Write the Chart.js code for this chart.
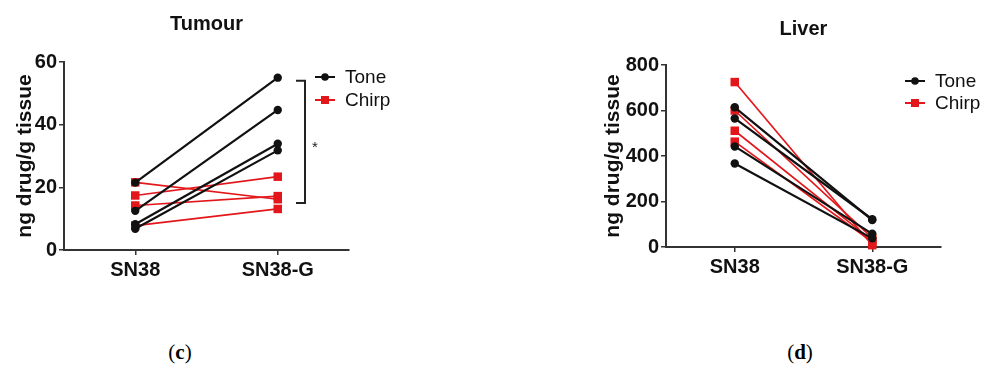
<!DOCTYPE html>
<html>
<head>
<meta charset="utf-8">
<script src="https://cdn.jsdelivr.net/npm/chart.js@4.4.1/dist/chart.umd.min.js"></script>
<style>
    body { margin: 0; background: #fff; }
    #wrap { position: relative; width: 983px; height: 365px; overflow: hidden; background: #fff; }
    .panel { position: absolute; top: 0; }
    .caption { position: absolute; top: 340px; width: 60px; text-align: center;
        font-family: "Liberation Serif", serif; font-size: 21px; color: #000; }
</style>
</head>
<body>
<div id="wrap">
    <canvas id="tumourChart" class="panel" style="left:0px" width="440" height="300"></canvas>
    <canvas id="liverChart" class="panel" style="left:590px" width="393" height="300"></canvas>
    <div class="caption" style="left:150px">(<b>c</b>)</div>
    <div class="caption" style="left:770px">(<b>d</b>)</div>
</div>
<script>
print = console.log;

// DATA
const categories = ['SN38', 'SN38-G'];

// Tumour, each index is one animal (SN38 -> SN38-G)
const tumourToneSN38 = [21.5, 12.5, 8.2, 6.8];
const tumourToneSN38G = [55, 44.7, 33.9, 31.8];
const tumourChirpSN38 = [21.6, 17.4, 14.2, 7.8];
const tumourChirpSN38G = [16.2, 23.4, 17.2, 13.1];
const tumourTicks = [0, 20, 40, 60];

// Liver
const liverToneSN38 = [614, 565, 442, 367];
const liverToneSN38G = [118, 122, 58, 38];
const liverChirpSN38 = [725, 600, 511, 463];
const liverChirpSN38G = [8, 40, 28, 22];
const liverTicks = [0, 200, 400, 600, 800];

const BLACK = '#111111';
const RED = '#e3171b';
const FONT = '"Liberation Sans", Arial, sans-serif';

window.addEventListener('load', function () {
    Chart.defaults.font.family = FONT;
    Chart.defaults.color = '#111';
    makePanel('tumourChart', {
        title: 'Tumour', titleY: 24,
        tone: [tumourToneSN38, tumourToneSN38G],
        chirp: [tumourChirpSN38, tumourChirpSN38G],
        ticks: tumourTicks,
        padding: { left: 9, top: 62, right: 91, bottom: 0 },
        yWidth: 55, xHeight: 50,
        legendX: 315, legendY: [77, 100],
        bracket: { top: 54, bottom: 15, x: 305, star: 33.5 }
    });
    makePanel('liverChart', {
        title: 'Liver', titleY: 29,
        tone: [liverToneSN38, liverToneSN38G],
        chirp: [liverChirpSN38, liverChirpSN38G],
        ticks: liverTicks,
        padding: { left: 7, top: 65, right: 42, bottom: 0 },
        yWidth: 69, xHeight: 53,
        legendX: 315, legendY: [81, 103],
        bracket: null
    });
});

// one dataset per animal
function pairDatasets(pair, color, style, width, radius) {
    return pair[0].map((v, i) => ({
        label: '',
        data: [v, pair[1][i]],
        borderColor: color,
        backgroundColor: color,
        borderWidth: width,
        pointStyle: style,
        pointRadius: radius,
        pointHoverRadius: radius,
        pointBorderWidth: 0,
        clip: false
    }));
}

// title, legend and bracket drawn over the chart
const annotPlugin = {
    id: 'annot',
    afterDraw(chart, args, opts) {
        const ctx = chart.ctx;
        const area = chart.chartArea;
        ctx.save();
        // title
        ctx.fillStyle = '#111';
        ctx.font = 'bold 20px ' + FONT;
        ctx.textAlign = 'center';
        ctx.textBaseline = 'middle';
        ctx.fillText(opts.title, (area.left + area.right) / 2, opts.titleY);

        // legend
        const items = [['Tone', BLACK, 'circle'], ['Chirp', RED, 'rect']];
        ctx.font = '19px ' + FONT;
        ctx.textAlign = 'left';
        items.forEach((it, i) => {
            const y = opts.legendY[i];
            const x = opts.legendX;
            ctx.strokeStyle = it[1];
            ctx.fillStyle = it[1];
            ctx.lineWidth = 2;
            ctx.beginPath();
            ctx.moveTo(x, y);
            ctx.lineTo(x + 20, y);
            ctx.stroke();
            if (it[2] === 'circle') {
                ctx.beginPath();
                ctx.arc(x + 10, y, 3.8, 0, Math.PI * 2);
                ctx.fill();
            } else {
                ctx.fillRect(x + 6, y - 4, 8, 8);
            }
            ctx.fillStyle = '#111';
            ctx.fillText(it[0], x + 30, y + 1);
        });

        // significance bracket
        const b = opts.bracket;
        if (b) {
            const yS = chart.scales.y;
            const top = yS.getPixelForValue(b.top);
            const bot = yS.getPixelForValue(b.bottom);
            ctx.strokeStyle = '#222';
            ctx.lineWidth = 2;
            ctx.beginPath();
            ctx.moveTo(b.x - 9, top);
            ctx.lineTo(b.x, top);
            ctx.lineTo(b.x, bot);
            ctx.lineTo(b.x - 9, bot);
            ctx.stroke();
            ctx.fillStyle = '#222';
            ctx.font = '15px ' + FONT;
            ctx.textAlign = 'center';
            ctx.fillText('*', b.x + 10, yS.getPixelForValue(b.star) + 3);
        }
        ctx.restore();
    }
};

function makePanel(id, cfg) {
    const ctx = document.getElementById(id).getContext('2d');
    const ticks = cfg.ticks;
    const datasets = pairDatasets(cfg.tone, BLACK, 'circle', 2.2, 4.2)
        .concat(pairDatasets(cfg.chirp, RED, 'rect', 1.7, 6));

    new Chart(ctx, {
        type: 'line',
        data: { labels: categories, datasets: datasets },
        plugins: [annotPlugin],
        options: {
            responsive: false,
            animation: false,
            devicePixelRatio: 1,
            layout: { padding: cfg.padding },
            plugins: {
                legend: { display: false },
                tooltip: { enabled: false },
                title: { display: false },
                annot: {
                    title: cfg.title, titleY: cfg.titleY,
                    legendX: cfg.legendX, legendY: cfg.legendY,
                    bracket: cfg.bracket
                }
            },
            scales: {
                x: {
                    type: 'category',
                    offset: true,
                    grid: { display: true, drawOnChartArea: false, drawTicks: true, tickLength: 5, color: '#333', lineWidth: 1.5 },
                    border: { display: true, color: '#333', width: 2 },
                    ticks: { color: '#111', font: { size: 20, weight: 'bold' }, padding: 3, maxRotation: 0 },
                    afterFit: s => { s.height = cfg.xHeight; }
                },
                y: {
                    min: ticks[0],
                    max: ticks[ticks.length - 1],
                    afterBuildTicks: s => { s.ticks = ticks.map(v => ({ value: v })); },
                    grid: { display: true, drawOnChartArea: false, drawTicks: true, tickLength: 5, color: '#333', lineWidth: 1.5 },
                    border: { display: true, color: '#333', width: 2 },
                    ticks: { color: '#111', font: { size: 20, weight: 'bold' }, padding: 2 },
                    title: {
                        display: true,
                        text: 'ng drug/g tissue',
                        color: '#111',
                        font: { size: 21, weight: 'bold' },
                        padding: { top: 4, bottom: 4 }
                    },
                    afterFit: s => { s.width = cfg.yWidth; }
                }
            }
        }
    });
}
</script>
</body>
</html>
